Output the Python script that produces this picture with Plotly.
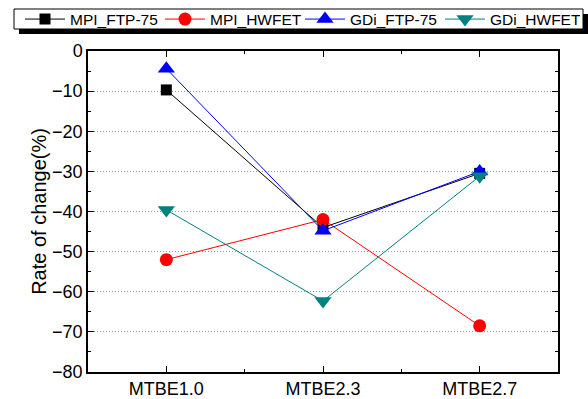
import plotly.graph_objects as go

# Fuel blend categories and rate-of-change values (%)
categories = ["MTBE1.0", "MTBE2.3", "MTBE2.7"]
mpi_ftp75 = [-9.7, -44.0, -30.5]
mpi_hwfet = [-52.0, -42.0, -68.5]
gdi_ftp75 = [-4.4, -44.8, -30.0]
gdi_hwfet = [-39.6, -62.3, -31.2]
y_ticks = [0, -10, -20, -30, -40, -50, -60, -70, -80]

W, H = 588, 399
L, R, T, B = 88, 30, 51, 27
FONT = "Liberation Sans, Arial, sans-serif"

xpos = list(range(len(categories)))

series = [
    ("MPI_FTP-75", mpi_ftp75, "#000000", "square", 11),
    ("MPI_HWFET", mpi_hwfet, "#ff0000", "circle", 13),
    ("GDi_FTP-75", gdi_ftp75, "#0000ff", "triangle-up", 15),
    ("GDi_HWFET", gdi_hwfet, "#008080", "triangle-down", 15),
]

fig = go.Figure()
for name, vals, color, sym, size in series:
    fig.add_trace(go.Scatter(
        x=xpos, y=vals, name=name, mode="lines+markers",
        line=dict(color=color, width=1),
        marker=dict(symbol=sym, size=size, color=color, line=dict(width=0)),
    ))

pw, ph = W - L - R, H - T - B


def px_x(v):
    return (v - L) / pw


def px_y(v):
    return (H - B - v) / ph


# legend frame with a drop shadow
fig.add_shape(type="rect", xref="paper", yref="paper",
              x0=px_x(19), x1=px_x(589), y0=px_y(34), y1=px_y(14),
              fillcolor="#000000", line=dict(width=0), layer="above")
fig.add_shape(type="rect", xref="paper", yref="paper",
              x0=px_x(14), x1=px_x(583), y0=px_y(29), y1=px_y(9),
              fillcolor="#ffffff", line=dict(color="#000000", width=1), layer="above")

fig.update_layout(
    width=W, height=H,
    margin=dict(l=L, r=R, t=T, b=B, autoexpand=False),
    paper_bgcolor="white", plot_bgcolor="white",
    font=dict(family=FONT, size=18, color="#000000"),
    showlegend=True,
    legend=dict(
        orientation="h", xref="paper", yref="paper",
        x=px_x(20), y=px_y(19.5), xanchor="left", yanchor="middle",
        bgcolor="rgba(0,0,0,0)", borderwidth=0,
        font=dict(family=FONT, size=15.5),
        itemwidth=40, entrywidth=85, entrywidthmode="pixels",
    ),
    xaxis=dict(
        range=[-0.5, 2.5],
        tickvals=xpos, ticktext=categories,
        ticks="inside", ticklen=6, tickwidth=1, tickcolor="#000000",
        minor=dict(dtick=0.5, tick0=0.5, ticks="inside", ticklen=3, tickcolor="#000000"),
        showline=True, linecolor="#000000", linewidth=1.5, mirror="allticks",
        showgrid=False, zeroline=False,
        tickfont=dict(size=18),
    ),
    yaxis=dict(
        range=[-80, 0],
        tickvals=y_ticks,
        ticks="inside", ticklen=6, tickwidth=1, tickcolor="#000000",
        minor=dict(dtick=5, tick0=-5, ticks="inside", ticklen=3, tickcolor="#000000", showgrid=False),
        showline=True, linecolor="#000000", linewidth=1.5, mirror="allticks",
        showgrid=True, gridcolor="#999999", gridwidth=1, griddash="1px,2px",
        zeroline=False,
        tickfont=dict(size=18),
        title=dict(text="Rate of change(%)", font=dict(size=20), standoff=0),
    ),
)

fig.write_html("out.html")
